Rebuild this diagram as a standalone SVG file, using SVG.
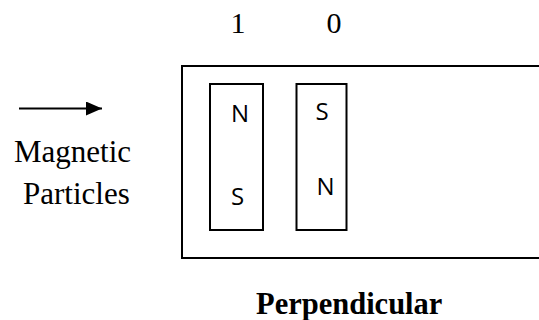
<svg xmlns="http://www.w3.org/2000/svg" width="539" height="320" viewBox="0 0 539 320">
<style>
.box{fill:#fff;stroke:#000;stroke-width:2}
</style>
<defs>
<marker id="ah" markerWidth="16" markerHeight="14" refX="16" refY="7" orient="auto" markerUnits="userSpaceOnUse">
<path d="M0,0 L16,7 L0,14 Z" fill="#000"/>
</marker>
</defs>
<rect width="539" height="320" fill="#fff"/>
<g id="labels" font-family="Liberation Serif, Times New Roman, serif" font-size="30" fill="#000" text-anchor="middle">
<text x="238" y="33">1</text>
<text x="334" y="33">0</text>
</g>
<g id="connectors">
<line x1="19" y1="108.5" x2="102" y2="108.5" stroke="#000" stroke-width="2" marker-end="url(#ah)"/>
</g>
<g id="particles-label" font-family="Liberation Serif, Times New Roman, serif" font-size="31" fill="#000">
<text x="14" y="162">Magnetic</text>
<text x="23" y="204">Particles</text>
</g>
<g id="medium">
<path d="M545,66 H182 V258 H545" class="box"/>
</g>
<g id="bit1" font-family="Open Sans, Liberation Sans, sans-serif" font-size="24" fill="#000" text-anchor="middle">
<rect class="box" x="210" y="84" width="53" height="146"/>
<text x="240" y="121.5">N</text>
<text x="237.5" y="205">S</text>
</g>
<g id="bit0" font-family="Open Sans, Liberation Sans, sans-serif" font-size="24" fill="#000" text-anchor="middle">
<rect class="box" x="296.5" y="84" width="50" height="146"/>
<text x="322" y="120">S</text>
<text x="325.5" y="195">N</text>
</g>
<g id="title" font-family="Liberation Serif, Times New Roman, serif" font-size="30.5" font-weight="bold" fill="#000">
<text x="256" y="314">Perpendicular</text>
</g>
</svg>
